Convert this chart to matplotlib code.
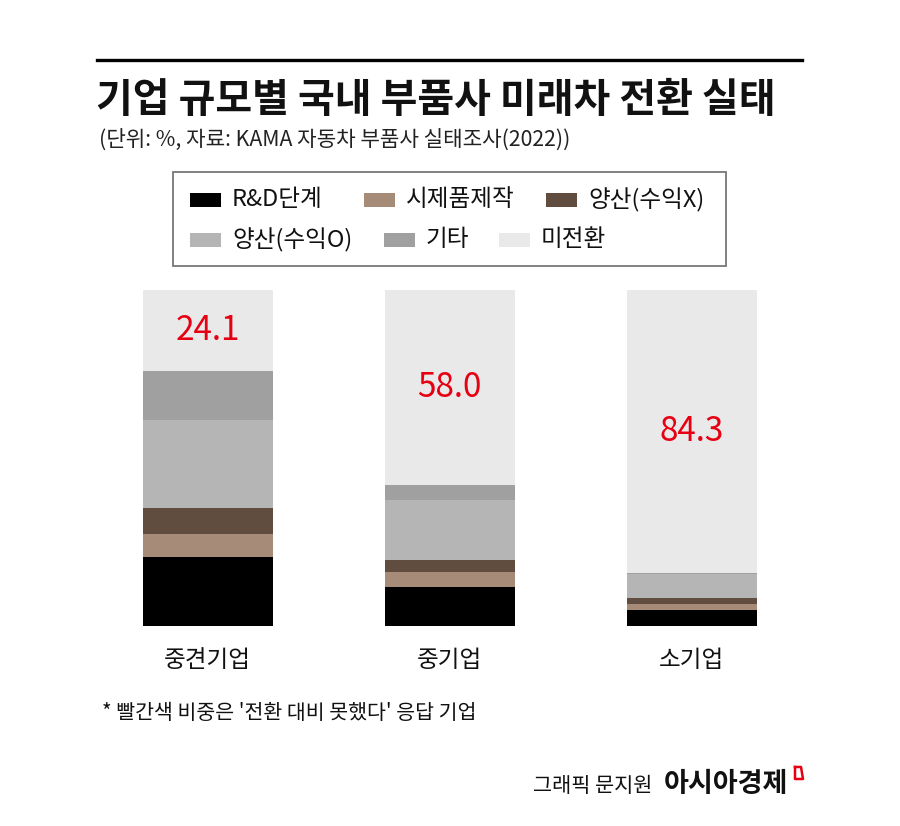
import matplotlib
matplotlib.use("Agg")
import matplotlib.pyplot as plt
from matplotlib.patches import Rectangle, Polygon
from matplotlib.lines import Line2D

plt.rcParams['font.family'] = ['Noto Sans CJK KR', 'DejaVu Sans']

# ---- data ----
categories = ['중견기업', '중기업', '소기업']
series_names = ['R&D단계', '시제품제작', '양산(수익X)', '양산(수익O)', '기타', '미전환']
rnd = [20.5, 11.6, 4.7]
prototype = [7.0, 4.5, 1.8]
mass_loss = [7.6, 3.6, 1.8]
mass_profit = [26.1, 17.8, 7.1]
other = [14.7, 4.5, 0.3]
not_converted = [24.1, 58.0, 84.3]
label_values = ['24.1', '58.0', '84.3']

colors = ['#000000', '#a68b78', '#614c40', '#b5b5b5', '#a0a0a0', '#e9e9e9']
series = [rnd, prototype, mass_loss, mass_profit, other, not_converted]

W, H = 900, 826
fig = plt.figure(figsize=(W / 100, H / 100), dpi=100)
fig.patch.set_facecolor('white')


def fx(x):
    return x / W


def fy(y):
    return 1 - y / H


# axes: bar centers at 207.5, 449.5, 692 px; bar top 290 (100%), bottom 626 (0)
spacing = 242.0
left_px = 207.5 - spacing / 2
ax = fig.add_axes([fx(left_px), fy(626), 3 * spacing / W, (626 - 290) / H])
ax.set_xlim(-0.5, 2.5)
ax.set_ylim(0, 100)
ax.axis('off')

x = list(range(len(categories)))
bar_w = 130 / spacing
bottoms = [0.0] * len(categories)
for vals, col in zip(series, colors):
    ax.bar(x, vals, width=bar_w, bottom=bottoms, color=col, edgecolor='none')
    bottoms = [b + v for b, v in zip(bottoms, vals)]

# red value labels in middle of 미전환 segment
for i, lab in enumerate(label_values):
    base = 100 - not_converted[i]
    ax.text(x[i], base + not_converted[i] / 2, lab, ha='center', va='center',
            fontsize=24, color='#e60012')

# category labels
for i, c in enumerate(categories):
    ax.text(x[i], -10.4, c, ha='center', va='center', fontsize=17,
            color='#111111', clip_on=False)

# ---- header ----
fig.add_artist(Line2D([fx(97), fx(802)], [fy(60), fy(60)], color='black', lw=2.4))
fig.text(fx(96), fy(101), '기업 규모별 국내 부품사 미래차 전환 실태', ha='left', va='center',
         fontsize=28.8, fontweight='bold', color='#111111')
fig.text(fx(99), fy(141), '(단위: %, 자료: KAMA 자동차 부품사 실태조사(2022))', ha='left',
         va='center', fontsize=15.3, color='#222222')

# ---- legend box ----
fig.add_artist(Rectangle((fx(173), fy(266)), fx(726) - fx(173), fy(172) - fy(266),
                         transform=fig.transFigure, facecolor='white',
                         edgecolor='#777777', lw=1.3))
legend_pos = [(190, 200), (364, 200), (546, 200), (190, 240), (384, 240), (499, 240)]
for (px, py), name, col in zip(legend_pos, series_names, colors):
    fig.add_artist(Rectangle((fx(px), fy(py + 7)), 31 / W, 14 / H,
                             transform=fig.transFigure, facecolor=col, edgecolor='none'))
    fig.text(fx(px + 42), fy(py), name, ha='left', va='center', fontsize=17,
             color='#111111')

# ---- footnote ----
fig.text(fx(102), fy(713), "* 빨간색 비중은 '전환 대비 못했다' 응답 기업", ha='left',
         va='center', fontsize=14.8, color='#111111')

# ---- credit ----
fig.text(fx(533), fy(786), '그래픽 문지원', ha='left', va='center', fontsize=15,
         color='#111111')
fig.text(fx(664), fy(784), '아시아경제', ha='left', va='center', fontsize=19.5,
         fontweight='bold', color='#111111')
fig.add_artist(Line2D([fx(795), fx(795), fx(803), fx(801), fx(795)],
                      [fy(767), fy(779), fy(779), fy(767), fy(767)],
                      color='#e60012', lw=1.8))

fig.savefig('out.png', dpi=100, facecolor='white')
